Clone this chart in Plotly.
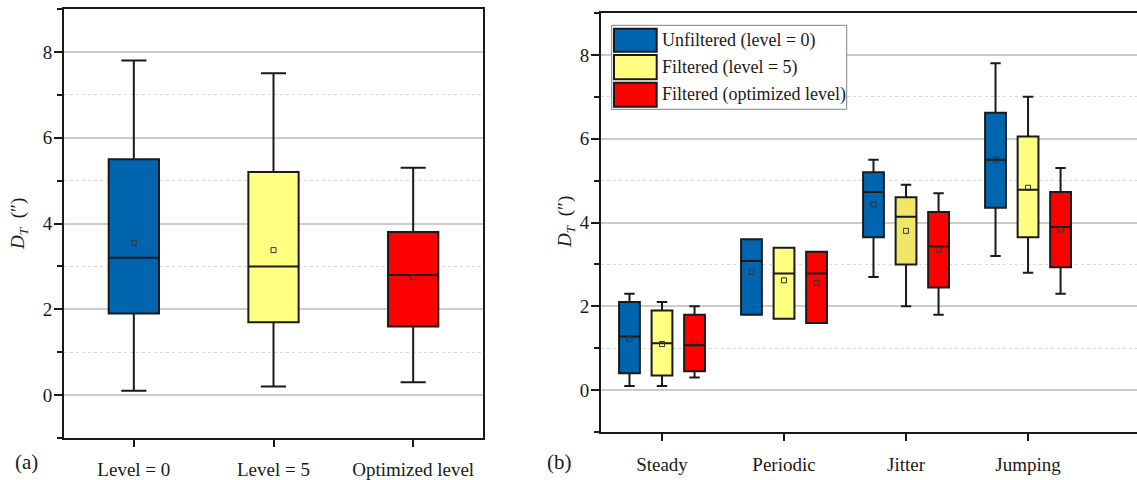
import plotly.graph_objects as go

FONT = "Liberation Serif"
W, H = 1137, 480

# ---- panel (a): overall error by filter level ----
levels = ["Level = 0", "Level = 5", "Optimized level"]
a_low = [0.1, 0.2, 0.3]
a_q1 = [1.9, 1.7, 1.6]
a_med = [3.2, 3.0, 2.8]
a_q3 = [5.5, 5.2, 3.8]
a_high = [7.8, 7.5, 5.3]
a_mean = [3.55, 3.38, 2.75]
a_fill = ["#0065AF", "#FFFF80", "#FF0000"]

# ---- panel (b): error by motion type ----
motions = ["Steady", "Periodic", "Jitter", "Jumping"]
series_names = ["Unfiltered (level = 0)", "Filtered (level = 5)", "Filtered (optimized level)"]

u_low = [0.1, 1.8, 2.7, 3.2]
u_q1 = [0.4, 1.8, 3.65, 4.35]
u_med = [1.28, 3.08, 4.73, 5.5]
u_q3 = [2.1, 3.6, 5.2, 6.62]
u_high = [2.3, 3.6, 5.5, 7.8]
u_mean = [1.22, 2.82, 4.43, 5.5]

f5_low = [0.1, 1.7, 2.0, 2.8]
f5_q1 = [0.35, 1.7, 3.0, 3.65]
f5_med = [1.12, 2.78, 4.14, 4.78]
f5_q3 = [1.9, 3.4, 4.6, 6.05]
f5_high = [2.1, 3.4, 4.9, 7.0]
f5_mean = [1.1, 2.62, 3.8, 4.83]

fo_low = [0.3, 1.6, 1.8, 2.3]
fo_q1 = [0.45, 1.6, 2.45, 2.93]
fo_med = [1.07, 2.78, 3.43, 3.89]
fo_q3 = [1.8, 3.3, 4.25, 4.73]
fo_high = [2.0, 3.3, 4.7, 5.3]
fo_mean = [1.1, 2.56, 3.35, 3.83]

u_fill = ["#0065AF"] * 4
f5_fill = ["#FFFF80", "#FFFF80", "#F0E66A", "#FFFF80"]
fo_fill = ["#FF0000"] * 4

INK = "#1a1a1a"
BOX_LINE = dict(color=INK, width=2)
MEAN_MARK = dict(symbol="square-open", size=5, color="#333333", line=dict(width=1))

fig = go.Figure()

for i, lev in enumerate(levels):
    fig.add_trace(go.Box(
        x=[lev], q1=[a_q1[i]], median=[a_med[i]], q3=[a_q3[i]],
        lowerfence=[a_low[i]], upperfence=[a_high[i]],
        fillcolor=a_fill[i], line=BOX_LINE, whiskerwidth=0.5, width=0.36,
        boxpoints=False, showlegend=False, hoverinfo="skip",
        xaxis="x", yaxis="y",
    ))
fig.add_trace(go.Scatter(
    x=levels, y=a_mean, mode="markers", marker=MEAN_MARK, orientation="v",
    showlegend=False, hoverinfo="skip", xaxis="x", yaxis="y",
))

panel_b = [
    ("u", u_low, u_q1, u_med, u_q3, u_high, u_mean, u_fill),
    ("f5", f5_low, f5_q1, f5_med, f5_q3, f5_high, f5_mean, f5_fill),
    ("fo", fo_low, fo_q1, fo_med, fo_q3, fo_high, fo_mean, fo_fill),
]

for key, low, q1, med, q3, high, mean, fills in panel_b:
    # one box trace per fill colour, all sharing the series' offset slot
    for colour in dict.fromkeys(fills):
        idx = [k for k, c in enumerate(fills) if c == colour]
        fig.add_trace(go.Box(
            x=[motions[k] for k in idx],
            q1=[q1[k] for k in idx], median=[med[k] for k in idx],
            q3=[q3[k] for k in idx], lowerfence=[low[k] for k in idx],
            upperfence=[high[k] for k in idx],
            fillcolor=colour, line=BOX_LINE, whiskerwidth=0.5,
            alignmentgroup="b", offsetgroup=key,
            boxpoints=False, showlegend=False, hoverinfo="skip",
            xaxis="x2", yaxis="y2",
        ))
for key, low, q1, med, q3, high, mean, fills in panel_b:
    fig.add_trace(go.Scatter(
        x=motions, y=mean, mode="markers", marker=MEAN_MARK, orientation="v",
        showlegend=False, hoverinfo="skip", xaxis="x2", yaxis="y2",
    ))


def px_x(v):
    return v / W


def px_y(v):
    return 1 - v / H


common_x = dict(
    type="category", showline=True, linecolor=INK, linewidth=2,
    ticks="outside", ticklen=7, tickwidth=1.5, tickcolor=INK,
    showgrid=False, zeroline=False, automargin=False,
    tickfont=dict(family=FONT, size=19, color=INK),
)
common_y = dict(
    range=[-1, 9], tick0=0, dtick=2, showline=True, linecolor=INK,
    linewidth=2, ticks="outside", ticklen=8, tickwidth=1.5,
    tickcolor=INK, showgrid=True, gridcolor="#cccccc", gridwidth=1.5,
    zeroline=False, automargin=False, ticklabelstandoff=-2,
    tickfont=dict(family=FONT, size=19, color=INK),
    minor=dict(dtick=1, tick0=0, ticks="outside", ticklen=5, tickwidth=1.5,
               tickcolor=INK, showgrid=True, griddash="dot",
               gridcolor="#d9d9d9", gridwidth=1),
)

fig.update_layout(
    width=W, height=H,
    margin=dict(l=0, r=0, t=0, b=0),
    paper_bgcolor="white", plot_bgcolor="white",
    boxmode="group", boxgap=0.2, boxgroupgap=0.36,
    scattermode="group", scattergap=0.2,
    xaxis=dict(common_x, domain=[px_x(64), px_x(483)], range=[-0.5, 2.5],
               mirror=True, anchor="y", ticklabelstandoff=6),
    yaxis=dict(common_y, domain=[px_y(438), px_y(9)], mirror=True, anchor="x"),
    xaxis2=dict(common_x, domain=[px_x(601), 1.0], range=[-0.5, 3.893],
                mirror=True, anchor="y2", ticklabelstandoff=7),
    yaxis2=dict(common_y, domain=[px_y(432), px_y(13)], mirror=False,
                anchor="x2"),
)

# axis titles and panel tags
title_text = "<i>D</i><sub><i>T</i></sub>  (″)"
annotations = [
    dict(x=px_x(19), y=px_y(224), text=title_text, textangle=-90),
    dict(x=px_x(566), y=px_y(222), text=title_text, textangle=-90),
    dict(x=px_x(27), y=px_y(462), text="(a)", font=dict(family=FONT, size=21, color=INK)),
    dict(x=px_x(559), y=px_y(462), text="(b)", font=dict(family=FONT, size=21, color=INK)),
]
for ann in annotations:
    ann.setdefault("font", dict(family=FONT, size=19, color=INK))
    fig.add_annotation(xref="paper", yref="paper", showarrow=False,
                       xanchor="center", yanchor="middle", **ann)

# legend for panel (b), drawn with shapes so the colour swatches are large
shapes = [dict(type="rect", x0=px_x(611.7), x1=px_x(846.7), y0=px_y(109.3),
               y1=px_y(25.3), line=dict(color="#808080", width=1),
               fillcolor="white")]
rows = [(28.7, 51.7), (55.0, 79.3), (82.7, 106.7)]
legend_fill = [u_fill[0], f5_fill[0], fo_fill[0]]
for (top, bot), name, colour in zip(rows, series_names, legend_fill):
    shapes.append(dict(type="rect", x0=px_x(614), x1=px_x(656.7),
                       y0=px_y(bot), y1=px_y(top),
                       line=dict(color=INK, width=2), fillcolor=colour))
    fig.add_annotation(xref="paper", yref="paper", showarrow=False,
                       x=px_x(660), y=px_y((top + bot) / 2), xanchor="left",
                       yanchor="middle", text=name,
                       font=dict(family=FONT, size=18, color=INK))
for s in shapes:
    fig.add_shape(xref="paper", yref="paper", layer="above", **s)

fig.write_html("out.html")
